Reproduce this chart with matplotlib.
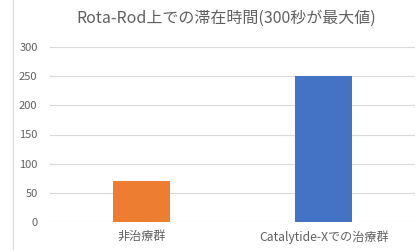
import matplotlib
matplotlib.use("Agg")
import matplotlib.pyplot as plt
from matplotlib.lines import Line2D

plt.rcParams['font.family'] = ['Noto Sans CJK JP', 'DejaVu Sans']

#data
categories = ["非治療群", "Catalytide-Xでの治療群"]
values = [70, 250]
colors = ["#ED7D31", "#4472C4"]
title = "Rota-Rod上での滞在時間(300秒が最大値)"

text_color = "#606060"

fig = plt.figure(figsize=(4.17, 2.5), dpi=100)
ax = fig.add_axes([0.12, 0.112, 0.875, 0.70])

x = range(len(categories))
ax.bar(x, values, width=0.31, color=colors, zorder=3)

ax.set_xlim(-0.5, 1.5)
ax.set_ylim(0, 300)
ax.set_yticks(range(0, 301, 50))
ax.set_xticks(list(x))
ax.set_xticklabels(categories, fontsize=8.7, color=text_color)
ax.tick_params(axis='y', labelsize=8, labelcolor=text_color, length=0, pad=9)
ax.tick_params(axis='x', length=0, pad=6)
ax.grid(axis='y', color="#D9D9D9", linewidth=0.8, zorder=0)
for s in ax.spines.values():
    s.set_visible(False)

fig.text(0.543, 0.927, title, ha='center', va='center', fontsize=11.5, color=text_color)

#left border line
fig.add_artist(Line2D([0.03, 0.03], [0, 1], color="#D9D9D9", linewidth=0.8))

fig.savefig("out.png", dpi=100)
